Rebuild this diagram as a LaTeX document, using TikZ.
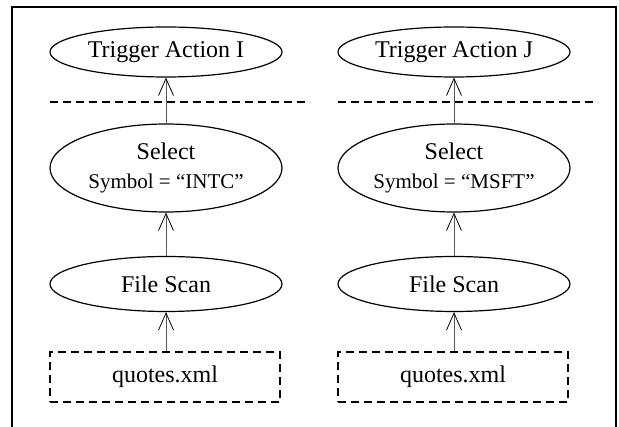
\documentclass[tikz,border=0pt]{standalone}
\usepackage{fontspec}
\setmainfont{Liberation Serif}
\usepackage{tikz}
\usetikzlibrary{arrows.meta,shapes.geometric,positioning}

\begin{document}
\begin{tikzpicture}[x=1pt,y=-1pt,
  op/.style={ellipse,draw,line width=1.2pt,inner sep=0pt,minimum width=232pt,
    font=\fontsize{24}{31}\selectfont,align=center},
  src/.style={rectangle,draw,line width=1.2pt,dash pattern=on 8pt off 5pt,
    minimum width=230pt,minimum height=50pt,inner sep=0pt,font=\fontsize{24}{28}\selectfont},
  flow/.style={draw=black!65,line width=1pt,
    -{Straight Barb[length=17pt,width=15pt,line width=0.8pt,black]}},
  cut/.style={line width=1.2pt,dash pattern=on 8pt off 5pt}]
\useasboundingbox (0,0) rectangle (619,427);
% frame
\draw[line width=1.5pt] (12,427) -- (12,7) -- (616,7) -- (616,427);

% left plan
\node[op,minimum height=50pt] (trigI) at (166,52) {Trigger Action I};
\node[op,minimum height=88pt] (selI) at (166,168) {Select\\[-2pt]{\fontsize{21}{24}\selectfont Symbol = “INTC”}};
\node[op,minimum height=55pt] (scanI) at (166,284) {File Scan};
\node[src] (xmlI) at (165,377) {quotes.xml};

% right plan
\node[op,minimum height=50pt] (trigJ) at (454,52) {Trigger Action J};
\node[op,minimum height=88pt] (selJ) at (454,168) {Select\\[-2pt]{\fontsize{21}{24}\selectfont Symbol = “MSFT”}};
\node[op,minimum height=55pt] (scanJ) at (454,284) {File Scan};
\node[src] (xmlJ) at (453,377) {quotes.xml};

\draw[cut] (50,102) -- (310,102);
\draw[cut] (338,102) -- (598,102);

\draw[flow] (xmlI.north -| scanI) -- (scanI.south);
\draw[flow] (scanI.north) -- (selI.south);
\draw[flow] (selI.north) -- (trigI.south);
\draw[flow] (xmlJ.north -| scanJ) -- (scanJ.south);
\draw[flow] (scanJ.north) -- (selJ.south);
\draw[flow] (selJ.north) -- (trigJ.south);
\end{tikzpicture}
\end{document}
